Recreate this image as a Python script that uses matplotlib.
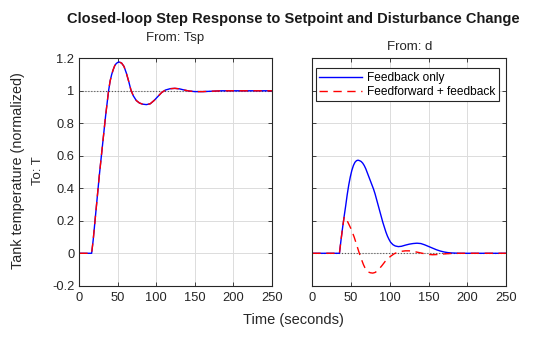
import numpy as np
import matplotlib
matplotlib.use('Agg')
import matplotlib.pyplot as plt

plt.rcParams['font.family'] = ['Liberation Sans', 'DejaVu Sans']

# setpoint response (Tsp -> T), both designs give the same curve
t_tsp = [0, 16, 18, 20, 22, 24, 26, 28, 30, 32, 34, 36, 38, 40, 42, 44, 46, 48, 50, 52,
         55, 58, 61, 64, 67, 70, 74, 78, 82, 87, 92, 97, 102, 107, 112, 118, 124, 130,
         136, 142, 150, 160, 170, 185, 250]
y_tsp = [0, 0, 0.08, 0.18, 0.28, 0.38, 0.48, 0.57, 0.66, 0.75, 0.84, 0.92, 1.0, 1.06,
         1.10, 1.13, 1.155, 1.168, 1.175, 1.177, 1.17, 1.15, 1.11, 1.06, 1.005, 0.97,
         0.94, 0.925, 0.918, 0.915, 0.92, 0.94, 0.965, 0.99, 1.005, 1.013, 1.015, 1.012,
         1.005, 0.999, 0.995, 0.995, 0.997, 1.0, 1.0]

# disturbance response (d -> T)
t_fb = [0, 35, 37, 39, 41, 43, 45, 47, 49, 51, 53, 55, 57, 59, 61, 63, 65, 67, 69, 71,
        73, 75, 77, 79, 81, 83, 85, 87, 89, 91, 93, 95, 97, 99, 101, 104, 107, 111, 115,
        120, 125, 130, 135, 140, 145, 150, 155, 160, 165, 170, 175, 180, 190, 250]
y_fb = [0, 0, 0.08, 0.155, 0.225, 0.29, 0.36, 0.42, 0.47, 0.51, 0.54, 0.56, 0.57, 0.573,
        0.57, 0.565, 0.555, 0.54, 0.52, 0.495, 0.47, 0.445, 0.42, 0.395, 0.365, 0.33,
        0.295, 0.26, 0.225, 0.19, 0.16, 0.13, 0.105, 0.085, 0.068, 0.053, 0.045, 0.041,
        0.043, 0.05, 0.056, 0.06, 0.062, 0.06, 0.052, 0.042, 0.032, 0.022, 0.014, 0.008,
        0.004, 0.002, 0.0, 0.0]

t_ff = [0, 35, 37, 39, 41, 42, 44, 46, 48, 50, 52, 54, 56, 58, 60, 62, 64, 66, 68, 70,
        72, 75, 78, 81, 84, 87, 90, 94, 98, 102, 106, 110, 115, 120, 125, 130, 135, 140,
        145, 150, 155, 160, 165, 170, 180, 190, 250]
y_ff = [0, 0, 0.08, 0.155, 0.22, 0.225, 0.21, 0.19, 0.17, 0.15, 0.125, 0.1, 0.07, 0.04,
        0.01, -0.02, -0.045, -0.07, -0.09, -0.105, -0.115, -0.12, -0.122, -0.118, -0.108,
        -0.092, -0.075, -0.05, -0.03, -0.015, -0.002, 0.006, 0.012, 0.015, 0.015, 0.012,
        0.007, 0.002, -0.003, -0.007, -0.009, -0.008, -0.006, -0.004, -0.001, 0.0, 0.0]

xticks = [0, 50, 100, 150, 200, 250]
yticks = [-0.2, 0, 0.2, 0.4, 0.6, 0.8, 1.0, 1.2]
ylabels = ['-0.2', '0', '0.2', '0.4', '0.6', '0.8', '1', '1.2']

fig = plt.figure(figsize=(5.6, 3.37), dpi=100)
ax1 = fig.add_axes([0.1416, 0.152, 0.344, 0.675])
ax2 = fig.add_axes([0.5577, 0.152, 0.346, 0.675])

dark = '#262626'
for ax in (ax1, ax2):
    ax.set_xlim(0, 250)
    ax.set_ylim(-0.2, 1.2)
    ax.set_xticks(xticks)
    ax.set_xticklabels([str(v) for v in xticks])
    ax.set_yticks(yticks)
    ax.grid(True, color='#dcdcdc', lw=0.7)
    ax.set_axisbelow(True)
    ax.tick_params(direction='in', top=True, right=True, length=3, width=0.6,
                   labelsize=9.3, colors=dark, labelcolor=dark)
    ax.tick_params(axis='x', pad=4.5)
    for s in ax.spines.values():
        s.set_color(dark)
        s.set_linewidth(0.8)

ax1.set_yticklabels(ylabels)
ax2.set_yticklabels([])

# left: setpoint
ax1.axhline(1.0, color='#555555', ls=':', lw=0.8)
ax1.plot(t_tsp, y_tsp, color='blue', lw=1.0)
ax1.plot(t_tsp, y_tsp, color='red', lw=1.0, ls=(0, (6, 4)))

# right: disturbance
ax2.axhline(0.0, color='#555555', ls=':', lw=0.8)
l1, = ax2.plot(t_fb, y_fb, color='blue', lw=1.0, label='Feedback only')
l2, = ax2.plot(t_ff, y_ff, color='red', lw=1.0, ls=(0, (6, 4)), label='Feedforward + feedback')
leg = ax2.legend(loc='upper left', bbox_to_anchor=(0.018, 0.956), fontsize=8.6,
                 frameon=True, fancybox=False, edgecolor=dark, framealpha=1,
                 handlelength=3.6, borderpad=0.3, labelspacing=0.15,
                 handletextpad=0.4, borderaxespad=0.0)
leg.get_frame().set_linewidth(0.8)

fig.text(0.523, 0.944, 'Closed-loop Step Response to Setpoint and Disturbance Change',
         ha='center', va='center', fontsize=10.5, fontweight='bold', color='#1a1a1a')
fig.text(0.313, 0.887, 'From: Tsp', ha='center', va='center', fontsize=9.5, color=dark)
fig.text(0.731, 0.861, 'From: d', ha='center', va='center', fontsize=9.5, color=dark)
fig.text(0.524, 0.05, 'Time (seconds)', ha='center', va='center', fontsize=10.5, color=dark)
fig.text(0.033, 0.493, 'Tank temperature (normalized)', ha='center', va='center',
         rotation=90, fontsize=10.4, color=dark)
fig.text(0.068, 0.493, 'To: T', ha='center', va='center', rotation=90, fontsize=9.5, color=dark)

fig.savefig('out.png', dpi=100)
